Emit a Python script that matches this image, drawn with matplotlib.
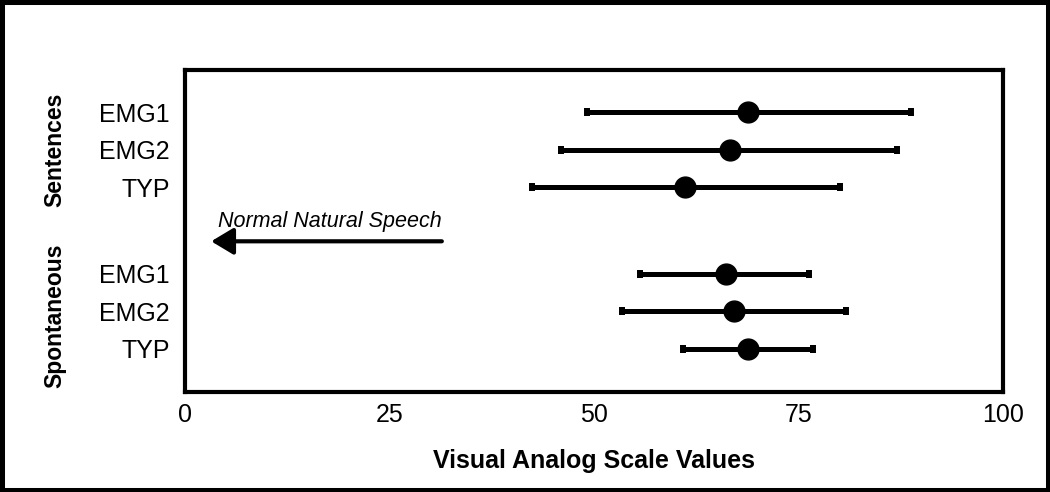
import matplotlib
matplotlib.use('Agg')
import matplotlib.pyplot as plt
from matplotlib.patches import Rectangle
from matplotlib.transforms import blended_transform_factory
import numpy as np

plt.rcParams['font.family'] = ['Liberation Sans', 'DejaVu Sans']

# Datos (escala analogica visual)
etiquetas = ['EMG1', 'EMG2', 'TYP', 'EMG1', 'EMG2', 'TYP']
grupos = ['Sentences', 'Spontaneous']
medias = np.array([68.8, 66.6, 61.1, 66.1, 67.1, 68.8])
minimos = np.array([49.1, 46.0, 42.4, 55.6, 53.4, 60.9])
maximos = np.array([88.8, 87.0, 80.1, 76.3, 80.8, 76.8])
posiciones = np.array([1, 2, 3, 5.3, 6.3, 7.3])
marcas_x = [0, 25, 50, 75, 100]

fig = plt.figure(figsize=(10.5, 4.92), dpi=100)
ax = fig.add_axes([0.1762, 0.2033, 0.779, 0.6545])

ax.errorbar(medias, posiciones, xerr=[medias - minimos, maximos - medias],
            fmt='o', color='black', ms=15, elinewidth=3.6,
            capsize=3.2, capthick=4.3)

ax.set_xlim(0, 100)
ax.set_ylim(8.45, -0.12)
ax.set_xticks(marcas_x)
ax.set_xticklabels([str(m) for m in marcas_x], fontsize=18)
ax.set_yticks(posiciones)
ax.set_yticklabels(etiquetas, fontsize=18)
ax.tick_params(axis='y', length=0, pad=11)
ax.tick_params(axis='x', length=0, pad=8)
for sp in ax.spines.values():
    sp.set_linewidth(3)

ax.set_xlabel('Visual Analog Scale Values', fontsize=18, fontweight='bold', labelpad=16)

# flecha de habla natural
ax.annotate('', xy=(3.2, 4.44), xytext=(31.4, 4.44),
            arrowprops=dict(arrowstyle='-|>,head_length=0.45,head_width=0.27',
                            lw=3, color='black', mutation_scale=30,
                            shrinkA=0, shrinkB=0))
ax.text(4.0, 3.9, 'Normal Natural Speech', fontsize=15.5, style='italic',
        ha='left', va='center')

# etiquetas de grupo
trans = blended_transform_factory(fig.transFigure, ax.transData)
ax.text(55 / 1050, 2.0, grupos[0], transform=trans, rotation=90, fontsize=16.5,
        fontweight='bold', ha='center', va='center')
ax.text(55 / 1050, 6.43, grupos[1], transform=trans, rotation=90, fontsize=16.5,
        fontweight='bold', ha='center', va='center')

# borde exterior
fig.patches.append(Rectangle((0, 0), 1, 1, transform=fig.transFigure,
                             fill=False, edgecolor='black', linewidth=6.5))

fig.savefig('out.png', dpi=100)
plt.close()
